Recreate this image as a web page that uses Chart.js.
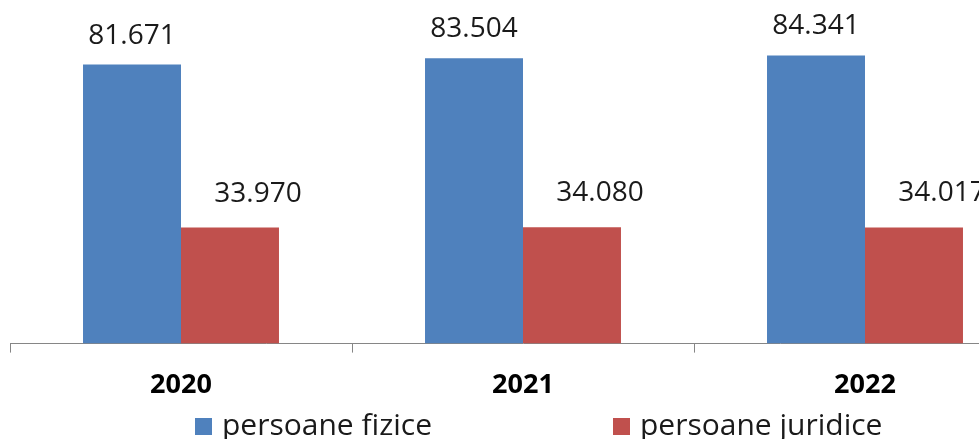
<!DOCTYPE html>
<html>
<head>
<meta charset="utf-8">
<script src="https://cdn.jsdelivr.net/npm/chart.js@4.4.0/dist/chart.umd.min.js"></script>
<style>
    html, body { margin: 0; padding: 0; overflow: hidden; background: #fff; }
    #wrap { width: 1040px; height: 439px; }
</style>
</head>
<body>
<div id="wrap"><canvas id="taxChart" width="1040" height="439"></canvas></div>
<script>
const years = ['2020', '2021', '2022'];
const persoaneFizice = [81671, 83504, 84341];
const persoaneJuridice = [33970, 34080, 34017];
const seriesNames = ['persoane fizice', 'persoane juridice'];

// 81671 -> "81.671"
const formatNumber = (v) => String(v).replace(/\B(?=(\d{3})+(?!\d))/g, '.');

const valueLabels = {
    id: 'valueLabels',
    afterDatasetsDraw(chart, args, opts) {
        const ctx = chart.ctx;
        ctx.save();
        ctx.font = opts.font;
        ctx.fillStyle = opts.color;
        ctx.textAlign = 'center';
        ctx.textBaseline = 'alphabetic';
        chart.data.datasets.forEach((ds, i) => {
            const off = opts.offsets[i];
            chart.getDatasetMeta(i).data.forEach((bar, j) => {
                ctx.fillText(formatNumber(ds.data[j]), bar.x + off.dx, bar.y - off.dy);
            });
        });
        ctx.restore();
    }
};

// legend drawn by hand so the wide spacing of the original can be kept
const bottomLegend = {
    id: 'bottomLegend',
    afterDraw(chart, args, opts) {
        const ctx = chart.ctx;
        ctx.save();
        ctx.font = opts.font;
        ctx.fillStyle = opts.color;
        ctx.textBaseline = 'alphabetic';
        chart.data.datasets.forEach((ds, i) => {
            const x = opts.startX + i * opts.column;
            ctx.fillStyle = ds.backgroundColor;
            ctx.fillRect(x, opts.baseline - opts.box, opts.box, opts.box);
            ctx.fillStyle = opts.color;
            ctx.fillText(ds.label, x + opts.box + opts.gap, opts.baseline);
        });
        ctx.restore();
    }
};

const ctx = document.getElementById('taxChart').getContext('2d');

const taxChart = new Chart(ctx, {
    type: 'bar',
    data: {
        labels: years,
        datasets: [
            {
                label: seriesNames[0],
                data: persoaneFizice,
                backgroundColor: '#4F81BD',
                borderWidth: 0
            },
            {
                label: seriesNames[1],
                data: persoaneJuridice,
                backgroundColor: '#C0504D',
                borderWidth: 0
            }
        ]
    },
    options: {
        responsive: false,
        animation: false,
        categoryPercentage: 0.573,
        barPercentage: 1.0,
        layout: {
            padding: { left: 10, right: 4, top: 2, bottom: 20 }
        },
        plugins: {
            legend: { display: false },
            tooltip: { enabled: false },
            valueLabels: {
                font: '28px "Open Sans"',
                color: '#1a1a1a',
                offsets: [{ dx: 0, dy: 21 }, { dx: 28, dy: 26 }]
            },
            bottomLegend: {
                font: '30px "Open Sans"',
                color: '#1a1a1a',
                startX: 195,
                column: 418,
                box: 17,
                gap: 10,
                baseline: 435
            }
        },
        scales: {
            x: {
                grid: {
                    display: true,
                    drawOnChartArea: false,
                    drawTicks: true,
                    tickLength: 9,
                    color: '#868686'
                },
                border: { display: true, color: '#868686', width: 1 },
                ticks: {
                    padding: 17,
                    color: '#000',
                    font: { family: 'Open Sans', size: 27, weight: 'bold' }
                }
            },
            y: {
                display: false,
                min: 0,
                max: 100000
            }
        }
    },
    plugins: [valueLabels, bottomLegend]
});
</script>
</body>
</html>
